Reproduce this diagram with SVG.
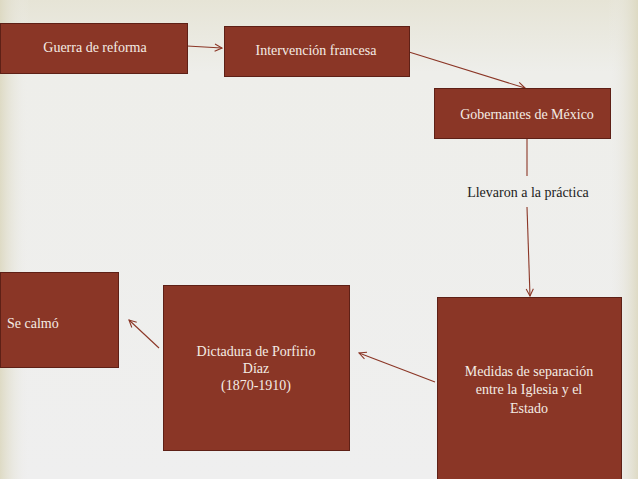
<svg xmlns="http://www.w3.org/2000/svg" width="638" height="479" viewBox="0 0 638 479">
<defs>
<linearGradient id="bgv" x1="0" y1="0" x2="0" y2="1"><stop offset="0" stop-color="#e6e4d6"/><stop offset="0.15" stop-color="#eeeeea"/><stop offset="1" stop-color="#efefef"/></linearGradient>
<linearGradient id="lh" x1="0" y1="0" x2="1" y2="0"><stop offset="0" stop-color="#dcd8c0" stop-opacity="0.9"/><stop offset="1" stop-color="#efefef" stop-opacity="0"/></linearGradient>
<linearGradient id="rh" x1="1" y1="0" x2="0" y2="0"><stop offset="0" stop-color="#dcd8c0" stop-opacity="0.9"/><stop offset="1" stop-color="#efefef" stop-opacity="0"/></linearGradient>
<marker id="ar" viewBox="0 0 10 10" refX="9" refY="5" markerWidth="9" markerHeight="9" orient="auto" markerUnits="userSpaceOnUse"><path d="M1,1 L9,5 L1,9" fill="none" stroke="#8b3626" stroke-width="1.2"/></marker>
</defs>
<style>
.box{fill:#8a3626;stroke:#5e2016;stroke-width:1}
.t{font-family:"Liberation Serif",serif;font-size:14px;fill:#f4ece4;text-anchor:middle}
.c{stroke:#8b3626;stroke-width:1.1;fill:none}
</style>
<rect width="638" height="479" fill="url(#bgv)"/>
<rect width="30" height="479" fill="url(#lh)"/>
<rect x="608" width="30" height="479" fill="url(#rh)"/>
<g id="connectors">
<line class="c" x1="187" y1="46" x2="222" y2="48" marker-end="url(#ar)"/>
<line class="c" x1="409" y1="52" x2="525" y2="88" marker-end="url(#ar)"/>
<line class="c" x1="527" y1="138" x2="527" y2="176"/>
<line class="c" x1="527" y1="207" x2="530" y2="296" marker-end="url(#ar)"/>
<line class="c" x1="435" y1="382" x2="359" y2="353" marker-end="url(#ar)"/>
<line class="c" x1="159" y1="348" x2="129" y2="320" marker-end="url(#ar)"/>
</g>
<g id="n1"><rect class="box" x="0.5" y="23.5" width="187" height="50"/><text class="t" x="95" y="52">Guerra de reforma</text></g>
<g id="n2"><rect class="box" x="224.5" y="26.5" width="185" height="50"/><text class="t" x="316" y="55">Intervención francesa</text></g>
<g id="n3"><rect class="box" x="434.5" y="88.5" width="176" height="50"/><text class="t" x="527" y="119">Gobernantes de México</text></g>
<g id="lbl"><text x="528" y="197" style="font-family:'Liberation Serif',serif;font-size:14px;fill:#222;text-anchor:middle">Llevaron a la práctica</text></g>
<g id="n4"><rect class="box" x="437.5" y="297.5" width="184" height="182"/><text class="t" x="529" y="376">Medidas de separación</text><text class="t" x="529" y="394">entre la Iglesia y el</text><text class="t" x="529" y="413">Estado</text></g>
<g id="n5"><rect class="box" x="163.5" y="285.5" width="186" height="165"/><text class="t" x="256" y="356">Dictadura de Porfirio</text><text class="t" x="256" y="373">Díaz</text><text class="t" x="256" y="390">(1870-1910)</text></g>
<g id="n6"><rect class="box" x="0.5" y="272.5" width="118" height="95"/><text class="t" x="7" y="328" style="text-anchor:start">Se calmó</text></g>
</svg>
